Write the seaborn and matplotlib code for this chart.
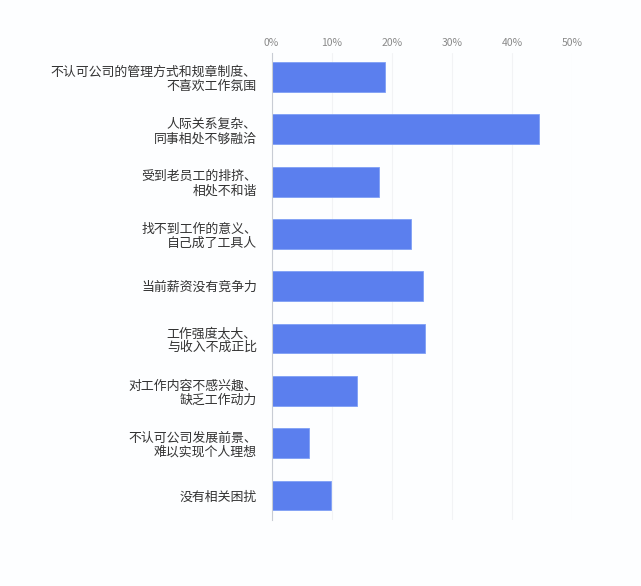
import matplotlib
matplotlib.use("Agg")
import matplotlib.pyplot as plt
import seaborn as sns
import pandas as pd
from matplotlib.ticker import PercentFormatter

categories = [
    "不认可公司的管理方式和规章制度、\n不喜欢工作氛围",
    "人际关系复杂、\n同事相处不够融洽",
    "受到老员工的排挤、\n相处不和谐",
    "找不到工作的意义、\n自己成了工具人",
    "当前薪资没有竞争力",
    "工作强度太大、\n与收入不成正比",
    "对工作内容不感兴趣、\n缺乏工作动力",
    "不认可公司发展前景、\n难以实现个人理想",
    "没有相关困扰",
]
values = [18.9, 44.5, 17.9, 23.2, 25.2, 25.5, 14.2, 6.3, 9.9]
xticks = [0, 10, 20, 30, 40, 50]

df = pd.DataFrame({"cat": categories, "val": values})

sns.set_theme(style="white")
plt.rcParams["font.family"] = ["Noto Sans CJK SC", "DejaVu Sans"]

fig = plt.figure(figsize=(6.41, 5.86), dpi=100, facecolor="#FDFEFF")
ax = fig.add_axes([0.4236, 0.1126, 0.4688, 0.7978])
ax.set_facecolor("#FDFEFF")

sns.barplot(data=df, x="val", y="cat", orient="h", color="#5B7FEE",
            saturation=1, width=0.57, ax=ax, edgecolor="#7FA0F5", linewidth=0.6)

ax.set_xlim(0, 50)
ax.set_ylim(8.47, -0.47)
ax.set_xticks(xticks)
ax.xaxis.set_major_formatter(PercentFormatter(decimals=0))
ax.xaxis.tick_top()
ax.tick_params(axis="x", length=0, pad=3, labelsize=7.5, labelcolor="#8A8A8A")
ax.tick_params(axis="y", length=3, width=0.6, color="#D0D0D0", pad=7.5,
               labelsize=9.3, labelcolor="#333333")
for lab in ax.get_yticklabels():
    lab.set_linespacing(1.12)
ax.grid(axis="x", color="#F2F3F5", linewidth=0.8)
ax.set_axisbelow(True)
for s in ["top", "right", "bottom"]:
    ax.spines[s].set_visible(False)
ax.spines["left"].set_color("#C8CCD4")
ax.spines["left"].set_linewidth(0.8)
ax.set_xlabel("")
ax.set_ylabel("")

fig.savefig("out.png", dpi=100, facecolor=fig.get_facecolor())
